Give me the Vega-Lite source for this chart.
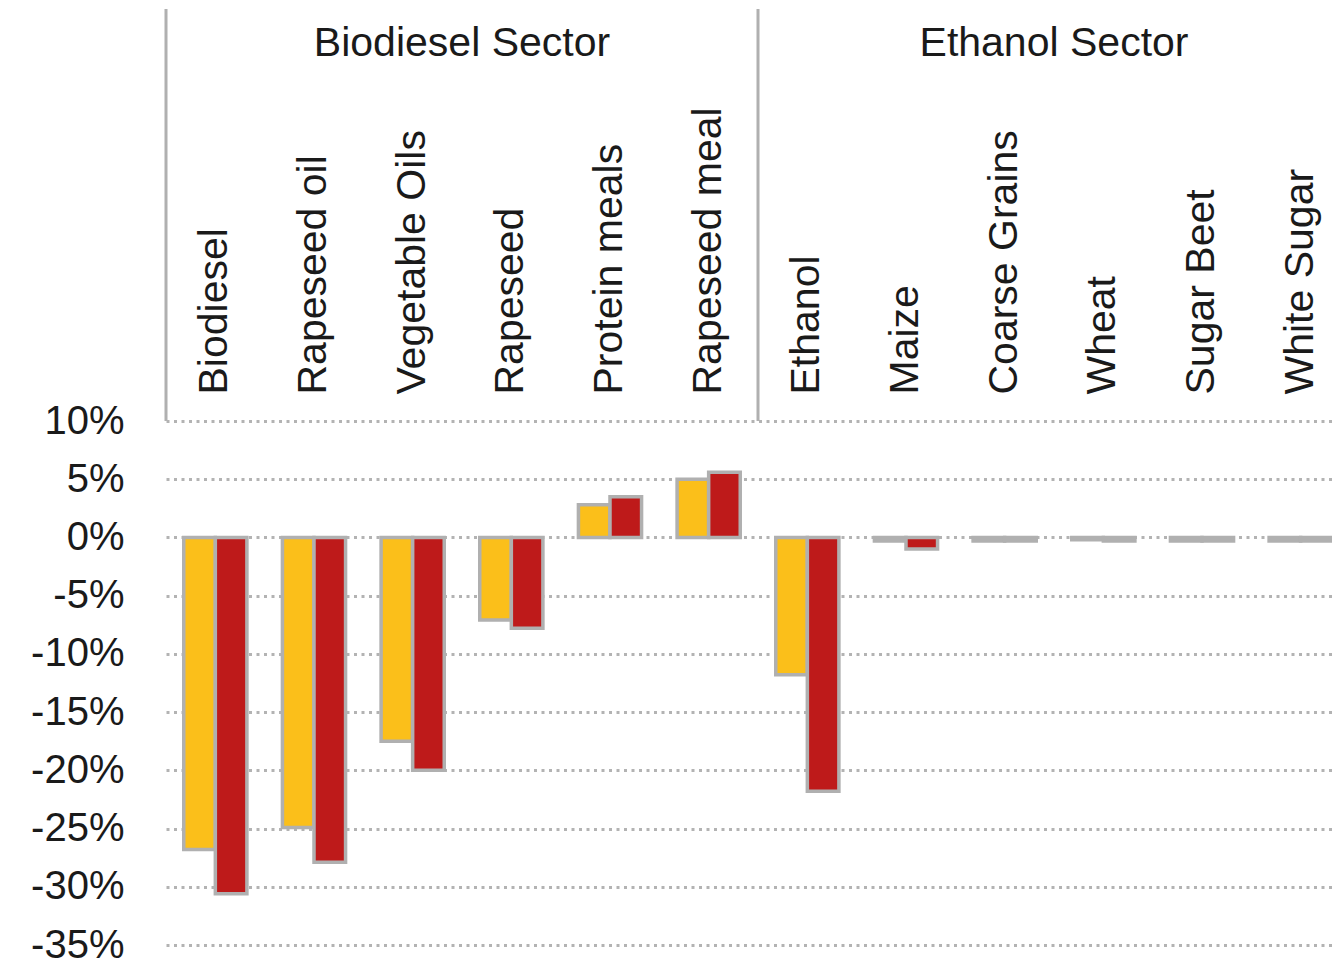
{
  "$schema": "https://vega.github.io/schema/vega-lite/v6.json",
  "background": "white",
  "padding": {"left": 30, "top": 7, "right": 0, "bottom": 4},
  "bounds": "flush",
  "spacing": 0,
  "config": {
    "view": {"stroke": null},
    "font": "Liberation Sans",
    "text": {"font": "Liberation Sans"}
  },
  "datasets": {
    "sectors": [
      {"sector": "Biodiesel Sector"},
      {"sector": "Ethanol Sector"}
    ],
    "changes": [
      {"product": "Biodiesel", "scenario": "Scenario 1", "change": -26.8},
      {"product": "Biodiesel", "scenario": "Scenario 2", "change": -30.6},
      {"product": "Rapeseed oil", "scenario": "Scenario 1", "change": -24.9},
      {"product": "Rapeseed oil", "scenario": "Scenario 2", "change": -27.9},
      {"product": "Vegetable Oils", "scenario": "Scenario 1", "change": -17.5},
      {"product": "Vegetable Oils", "scenario": "Scenario 2", "change": -20.0},
      {"product": "Rapeseed", "scenario": "Scenario 1", "change": -7.1},
      {"product": "Rapeseed", "scenario": "Scenario 2", "change": -7.8},
      {"product": "Protein meals", "scenario": "Scenario 1", "change": 2.8},
      {"product": "Protein meals", "scenario": "Scenario 2", "change": 3.5},
      {"product": "Rapeseed meal", "scenario": "Scenario 1", "change": 5.0},
      {"product": "Rapeseed meal", "scenario": "Scenario 2", "change": 5.6},
      {"product": "Ethanol", "scenario": "Scenario 1", "change": -11.8},
      {"product": "Ethanol", "scenario": "Scenario 2", "change": -21.8},
      {"product": "Maize", "scenario": "Scenario 1", "change": -0.3},
      {"product": "Maize", "scenario": "Scenario 2", "change": -1.0},
      {"product": "Coarse Grains", "scenario": "Scenario 1", "change": -0.3},
      {"product": "Coarse Grains", "scenario": "Scenario 2", "change": -0.3},
      {"product": "Wheat", "scenario": "Scenario 1", "change": -0.2},
      {"product": "Wheat", "scenario": "Scenario 2", "change": -0.3},
      {"product": "Sugar Beet", "scenario": "Scenario 1", "change": -0.3},
      {"product": "Sugar Beet", "scenario": "Scenario 2", "change": -0.3},
      {"product": "White Sugar", "scenario": "Scenario 1", "change": -0.3},
      {"product": "White Sugar", "scenario": "Scenario 2", "change": -0.3}
    ]
  },
  "vconcat": [
    {
      "width": 1184,
      "height": 412,
      "data": {"name": "sectors"},
      "layer": [
        {
          "mark": {"type": "rule", "color": "#b0b0b0", "strokeWidth": 3},
          "encoding": {
            "x": {"field": "sector", "type": "nominal", "sort": null, "bandPosition": 0,
                  "scale": {"paddingInner": 0, "paddingOuter": 0}, "axis": null},
            "y": {"datum": 0, "type": "quantitative", "scale": {"domain": [0, 1], "nice": false}, "axis": null},
            "y2": {"datum": 1}
          }
        },
        {
          "mark": {"type": "text", "fontSize": 41, "color": "#1a1a1a", "baseline": "middle", "align": "center"},
          "encoding": {
            "x": {"field": "sector", "type": "nominal", "sort": null,
                  "scale": {"paddingInner": 0, "paddingOuter": 0}, "axis": null},
            "y": {"datum": 0.915, "type": "quantitative"},
            "text": {"field": "sector"}
          }
        }
      ]
    },
    {
      "width": 1184,
      "height": 524,
      "data": {"name": "changes"},
      "mark": {"type": "bar", "stroke": "#b0b0b0", "strokeWidth": 3.5},
      "encoding": {
        "x": {
          "field": "product", "type": "nominal", "sort": null,
          "scale": {"paddingInner": 0.36, "paddingOuter": 0.18},
          "axis": {
            "orient": "top", "title": null, "labelAngle": -90,
            "labelAlign": "left", "labelBaseline": "middle",
            "labelFontSize": 41, "labelColor": "#1a1a1a", "labelFont": "Liberation Sans",
            "labelPadding": 27, "labelLimit": 500, "labelOverlap": false,
            "ticks": false, "domain": false, "grid": false
          }
        },
        "xOffset": {"field": "scenario", "type": "nominal", "sort": null,
                    "scale": {"paddingInner": 0, "paddingOuter": 0}},
        "y": {
          "field": "change", "type": "quantitative",
          "scale": {"domain": [-35, 10], "nice": false, "zero": false},
          "axis": {
            "title": null,
            "values": [-35, -30, -25, -20, -15, -10, -5, 0, 5, 10],
            "labelExpr": "datum.value + '%'",
            "labelFontSize": 40, "labelColor": "#1a1a1a", "labelFont": "Liberation Sans",
            "labelPadding": 42, "labelOverlap": false,
            "domain": false, "ticks": false,
            "grid": true, "gridColor": "#b3b3b3", "gridDash": [3, 4.5], "gridWidth": 3
          }
        },
        "color": {
          "field": "scenario", "type": "nominal", "sort": null,
          "scale": {"range": ["#fbbf1a", "#be1a1a"]},
          "legend": null
        }
      }
    }
  ]
}
